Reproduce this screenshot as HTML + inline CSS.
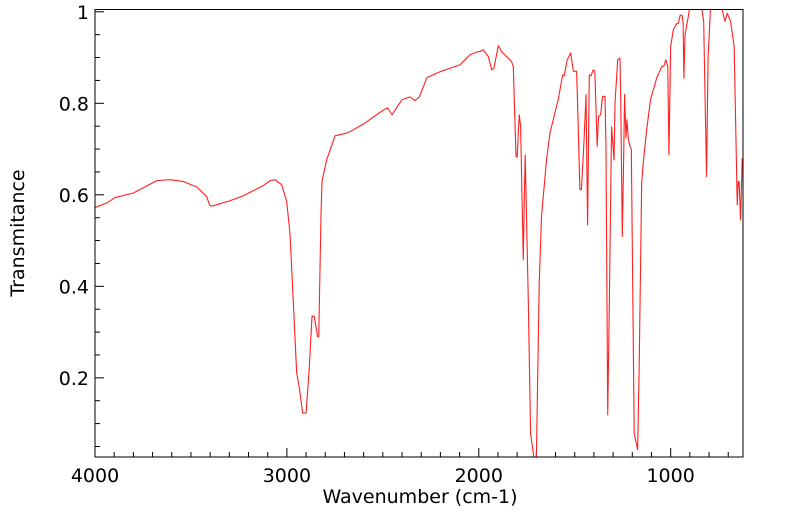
<!DOCTYPE html>
<html><head><meta charset="utf-8"><style>
html,body{margin:0;padding:0;background:#fff;}
svg{display:block;font-family:"DejaVu Sans","Liberation Sans",sans-serif;}
</style></head><body>
<svg id="chart" width="799" height="516" viewBox="0 0 799 516" xmlns="http://www.w3.org/2000/svg">
<defs><clipPath id="plotclip"><rect x="95" y="9.5" width="648" height="447.5"/></clipPath></defs>
<g id="grid-ticks"></g>
<path id="series" clip-path="url(#plotclip)" fill="none" stroke="#ff2020" stroke-width="1.1" stroke-linejoin="round"/>
<rect x="95" y="9.5" width="648" height="447.5" fill="none" stroke="#000" stroke-width="1"/>
<g id="labels"></g>
<text x="420" y="503" font-size="19" text-anchor="middle">Wavenumber (cm-1)</text>
<text transform="translate(24,233) rotate(-90)" font-size="19" text-anchor="middle">Transmitance</text>
</svg>
<script>
const wavenumbers=[4000,3939,3896,3800,3678,3609,3540,3470,3418,3401,3384,3297,3227,3123,3088,3062,3027,3001,2984,2967,2949,2935,2918,2900,2883,2869,2857,2840,2834,2822,2817,2793,2749,2688,2671,2600,2494,2475,2452,2400,2358,2332,2310,2270,2202,2098,2046,2004,1994,1977,1950,1933,1921,1898,1881,1829,1820,1806,1800,1789,1782,1768,1763,1758,1742,1730,1711,1700,1685,1673,1647,1629,1586,1563,1555,1539,1521,1507,1490,1485,1473,1465,1452,1441,1433,1424,1415,1404,1395,1383,1376,1365,1355,1342,1337,1328,1320,1308,1295,1290,1276,1264,1260,1252,1245,1240,1233,1228,1220,1212,1205,1190,1172,1164,1151,1143,1125,1105,1073,1047,1035,1025,1015,1009,1000,986,969,960,950,940,935,931,925,908,900,839,828,813,805,792,735,717,705,688,669,653,648,643,636,627];
const transmittance=[0.572,0.582,0.594,0.604,0.631,0.633,0.629,0.617,0.596,0.576,0.576,0.587,0.598,0.620,0.631,0.633,0.622,0.585,0.516,0.370,0.211,0.178,0.123,0.123,0.225,0.335,0.334,0.290,0.290,0.560,0.629,0.676,0.729,0.735,0.738,0.755,0.786,0.790,0.775,0.808,0.814,0.806,0.814,0.856,0.869,0.884,0.906,0.913,0.913,0.917,0.902,0.873,0.877,0.926,0.913,0.891,0.880,0.684,0.682,0.775,0.750,0.458,0.590,0.687,0.370,0.079,0.020,0.020,0.407,0.553,0.676,0.735,0.808,0.862,0.860,0.895,0.910,0.870,0.870,0.800,0.611,0.612,0.713,0.819,0.534,0.862,0.860,0.873,0.870,0.706,0.771,0.775,0.815,0.815,0.700,0.119,0.350,0.749,0.676,0.800,0.895,0.899,0.800,0.509,0.680,0.819,0.724,0.764,0.720,0.706,0.700,0.079,0.043,0.225,0.626,0.669,0.742,0.808,0.855,0.880,0.882,0.895,0.880,0.687,0.924,0.961,0.974,0.975,0.993,0.992,0.975,0.855,0.950,0.990,1.010,1.010,0.980,0.640,0.900,1.010,1.010,0.979,0.997,0.979,0.924,0.578,0.629,0.629,0.545,0.680];
const xTickValues=[4000,3000,2000,1000];
const xTickLabels=["4000","3000","2000","1000"];
const yTickValues=[0.2,0.4,0.6,0.8,1.0];
const yTickLabels=["0.2","0.4","0.6","0.8","1"];

const X0=95,X1=743,Y0=457,Y1=9.5;
const xMin=4000,xMax=623,yMin=0.027,yMax=1.005;
function xs(v){return X0+(xMin-v)/(xMin-xMax)*(X1-X0);}
function ys(v){return Y0-(v-yMin)/(yMax-yMin)*(Y0-Y1);}
const NS="http://www.w3.org/2000/svg";
let d="";
for(let i=0;i<wavenumbers.length;i++){d+=(i?"L":"M")+xs(wavenumbers[i]).toFixed(2)+","+ys(transmittance[i]).toFixed(2);}
document.getElementById("series").setAttribute("d",d);
const tg=document.getElementById("grid-ticks"),lg=document.getElementById("labels");
function line(x1,y1,x2,y2,name){const l=document.createElementNS(NS,"line");l.setAttribute("x1",x1);l.setAttribute("y1",y1);l.setAttribute("x2",x2);l.setAttribute("y2",y2);l.setAttribute("stroke","#000");l.setAttribute("stroke-width","1");


tg.appendChild(l);}
for(let w=4000;w>=xMax;w-=100){const x=xs(w);const major=w%1000===0;line(x,Y0,x,Y0-(major?9:5),major?"x-major-tick":"x-minor-tick");}
for(let v=0.05;v<=1.0001;v+=0.05){const y=ys(v);const major=Math.abs(v*5-Math.round(v*5))<1e-6;line(X0,y,X0+(major?9:5),y,major?"y-major-tick":"y-minor-tick");}
xTickValues.forEach((v,i)=>{const t=document.createElementNS(NS,"text");t.setAttribute("x",xs(v));t.setAttribute("y",482);t.setAttribute("font-size","19");t.setAttribute("text-anchor","middle");t.textContent=xTickLabels[i];


lg.appendChild(t);});
yTickValues.forEach((v,i)=>{const t=document.createElementNS(NS,"text");t.setAttribute("x",89);t.setAttribute("y",ys(v)+7);t.setAttribute("font-size","19");t.setAttribute("text-anchor","end");t.textContent=yTickLabels[i];


lg.appendChild(t);});
</script>
</body></html>
